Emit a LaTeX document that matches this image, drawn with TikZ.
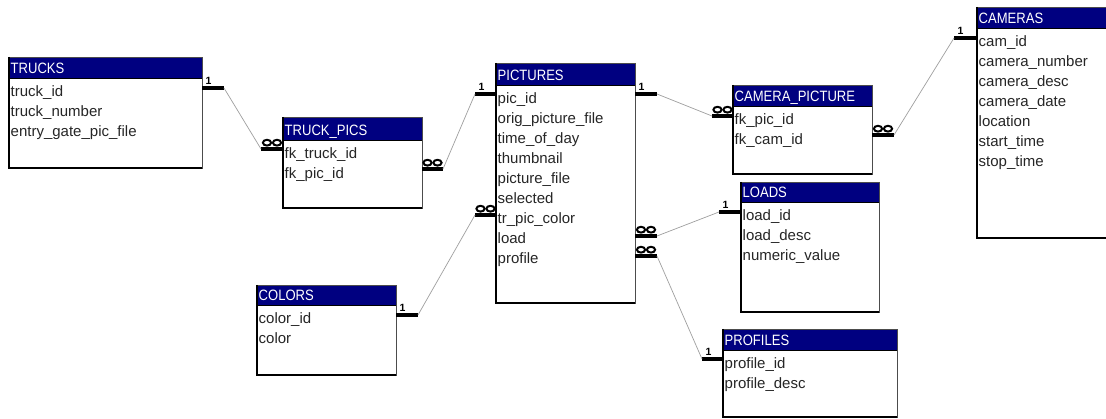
\documentclass[tikz,border=0pt]{standalone}
\usepackage{fontspec}
\setmainfont{Liberation Sans}
\newfontfamily\titlefont[FakeStretch=0.87]{Liberation Sans}
\definecolor{hdr}{RGB}{0,0,128}
\tikzset{
  fieldtxt/.style={anchor=base west, inner sep=0pt, font=\fontsize{15}{18}\selectfont, text=black!85},
  titletxt/.style={anchor=base west, inner sep=0pt, font=\titlefont\fontsize{15}{18}\selectfont, text=white},
  barline/.style={line width=4.5pt, black, line cap=butt},
  manyring/.style={line width=2pt, black},
  onelbl/.style={anchor=south, inner sep=0pt, font=\bfseries\fontsize{10.5}{11}\selectfont},
  conn/.style={gray!75, line width=0.7pt},
}
% #1 name #2 title #3 left #4 top #5 right #6 header bottom #7 bottom #8 fields
\newcommand\ertable[8]{%
  \fill[white] (#3,#4) rectangle (#5,#7);
  \fill[hdr] (#3,#4) rectangle (#5,#6);
  \draw[gray!60!black, line width=0.8pt] (#3,#4) rectangle (#5,#7);
  \draw[black, line width=1pt] (#3,#6) -- (#5,#6);
  \draw[black, line width=1.5pt] (#3,#4) -- (#3,#7) -- (#5,#7);
  \node[titletxt] (#1-title) at (#3+1.5,#6-5) {#2};
  \foreach \f [count=\i] in {#8} {\node[fieldtxt] (#1-\i) at (#3+1.5,#6+18+20*\i-20) {\f};}
}
% #1 name #2 x1 #3 x2 #4 y #5 outer x
\newcommand\onebar[5]{%
  \draw[barline] (#2,#4) -- (#3,#4);
  \node[onelbl] (#1-lbl) at (#2+6.5,#4-3.5) {1};
  \coordinate (#1) at (#5,#4);
}
\newcommand\manybar[5]{%
  \draw[barline] (#2,#4) -- (#3,#4);
  \draw[manyring] ({(#2+#3)/2-5},#4-6.3) ellipse [x radius=4.1, y radius=2.9];
  \draw[manyring] ({(#2+#3)/2+5},#4-6.3) ellipse [x radius=4.1, y radius=2.9];
  \coordinate (#1) at (#5,#4);
}
\begin{document}
\begin{tikzpicture}[x=1pt,y=-1pt]
\useasboundingbox (0,0) rectangle (1106,419);
\clip (0,0) rectangle (1106,419);
\fill[white] (0,0) rectangle (1106,419);

\ertable{trucks}{TRUCKS}{9}{57}{202}{79}{168}{truck\_id,truck\_number,entry\_gate\_pic\_file}
\ertable{truckpics}{TRUCK\_PICS}{283}{117}{422}{141}{208}{fk\_truck\_id,fk\_pic\_id}
\ertable{pictures}{PICTURES}{496}{63}{635}{86}{303}{pic\_id,orig\_picture\_file,time\_of\_day,thumbnail,picture\_file,selected,tr\_pic\_color,load,profile}
\ertable{campic}{CAMERA\_PICTURE}{733}{85}{872}{107}{174}{fk\_pic\_id,fk\_cam\_id}
\ertable{cameras}{CAMERAS}{977}{7}{1115}{29}{238}{cam\_id,camera\_number,camera\_desc,camera\_date,location,start\_time,stop\_time}
\ertable{loads}{LOADS}{741}{182}{879}{203}{312}{load\_id,load\_desc,numeric\_value}
\ertable{profiles}{PROFILES}{723}{329}{897}{351}{417}{profile\_id,profile\_desc}
\ertable{colors}{COLORS}{257}{285}{396}{306}{375}{color\_id,color}

% relationship ends
\onebar{t1}{202}{224}{88}{224}
\manybar{tp1}{261}{283}{149}{261}
\manybar{tp2}{422}{443}{169}{443}
\onebar{p1}{475}{496}{94}{475}
\onebar{p2}{635}{657}{94}{657}
\manybar{cp1}{712}{733}{116}{712}
\manybar{cp2}{872}{894}{135}{894}
\onebar{c1}{954}{977}{38}{954}
\onebar{co1}{396}{418}{315}{418}
\manybar{p3}{475}{496}{215}{475}
\manybar{p4}{635}{657}{236}{657}
\onebar{l1}{719}{741}{212}{719}
\manybar{p5}{635}{657}{256}{657}
\onebar{pr1}{702}{723}{359}{702}

\draw[conn] (t1) -- (tp1);
\draw[conn] (tp2) -- (p1);
\draw[conn] (p2) -- (cp1);
\draw[conn] (cp2) -- (c1);
\draw[conn] (co1) -- (p3);
\draw[conn] (p4) -- (l1);
\draw[conn] (p5) -- (pr1);
\end{tikzpicture}
\end{document}
